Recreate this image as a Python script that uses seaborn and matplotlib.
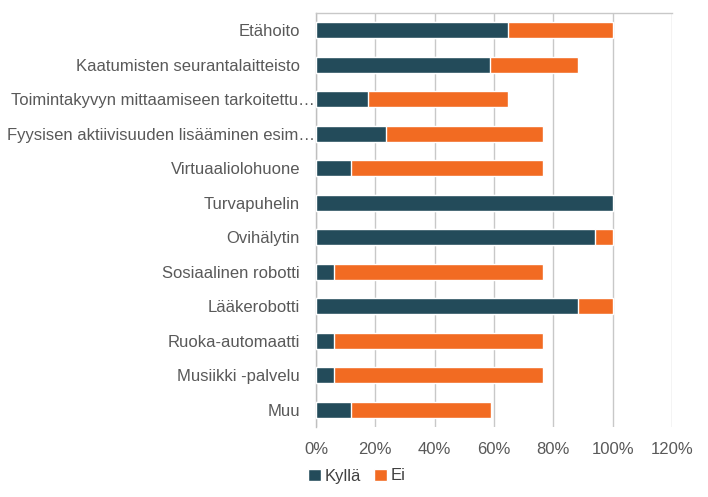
import matplotlib
matplotlib.use("Agg")
import matplotlib.pyplot as plt
import matplotlib.transforms as mtransforms
import seaborn as sns
import numpy as np
import pandas as pd
from matplotlib.ticker import PercentFormatter, FixedLocator
from matplotlib.patches import Patch

categories = [
    "Etähoito",
    "Kaatumisten seurantalaitteisto",
    "Toimintakyvyn mittaamiseen tarkoitettu…",
    "Fyysisen aktiivisuuden lisääminen esim…",
    "Virtuaaliolohuone",
    "Turvapuhelin",
    "Ovihälytin",
    "Sosiaalinen robotti",
    "Lääkerobotti",
    "Ruoka-automaatti",
    "Musiikki -palvelu",
    "Muu",
]
kylla = [64.7, 58.8, 17.6, 23.5, 11.8, 100.0, 94.1, 5.9, 88.2, 5.9, 5.9, 11.8]
ei = [35.3, 29.4, 47.1, 52.9, 64.7, 0.0, 5.9, 70.6, 11.8, 70.6, 70.6, 47.1]

series_names = ["Kyllä", "Ei"]
c_kylla = "#234b5a"
c_ei = "#f26b22"
gray = "#595959"

df = pd.DataFrame({"cat": categories, "Kyllä": kylla, "Ei": ei})
df["total"] = df["Kyllä"] + df["Ei"]

sns.set_theme(style="white")
plt.rcParams["font.family"] = ["Liberation Sans", "DejaVu Sans"]

fig = plt.figure(figsize=(7.08, 4.97), dpi=100)
ax = fig.add_axes([316/708, 1-427/497, (672-316)/708, (427-13)/497])

sns.barplot(data=df, y="cat", x="total", color=c_ei, orient="h", width=0.45,
            saturation=1, ax=ax, zorder=3)
sns.barplot(data=df, y="cat", x="Kyllä", color=c_kylla, orient="h", width=0.45,
            saturation=1, ax=ax, zorder=4)

ax.set_xlim(0, 120)
ax.set_ylim(len(categories) - 0.5, -0.5)
ax.xaxis.set_major_locator(FixedLocator([0, 20, 40, 60, 80, 100, 120]))
ax.xaxis.set_major_formatter(PercentFormatter(decimals=0))
ax.grid(axis="x", color="#c8c8c8", linewidth=1, zorder=0)
ax.set_axisbelow(True)
ax.set_xlabel("")
ax.set_ylabel("")

ax.tick_params(axis="x", length=0, labelsize=12, labelcolor=gray, pad=11)
ax.tick_params(axis="y", which="major", length=0, labelsize=12, labelcolor=gray, pad=11.5)
ax.yaxis.set_minor_locator(FixedLocator(np.arange(-0.5, len(categories) + 0.5, 1)))
ax.tick_params(axis="y", which="minor", length=5, color="#bfbfbf", width=1, direction="out")

# long (truncated) labels sit right against the axis, as in the reference
shift = mtransforms.ScaledTranslation(15/100, 0, fig.dpi_scale_trans)
for lab in ax.get_yticklabels():
    if lab.get_text().endswith("…"):
        lab.set_transform(lab.get_transform() + shift)

for s in ["right", "bottom"]:
    ax.spines[s].set_visible(False)
ax.spines["left"].set_color("#bfbfbf")
ax.spines["top"].set_color("#c8c8c8")
ax.spines["left"].set_linewidth(1)
ax.spines["top"].set_linewidth(1)

handles = [Patch(facecolor=c_kylla, label=series_names[0]),
           Patch(facecolor=c_ei, label=series_names[1])]
leg = fig.legend(handles=handles, loc="center left", bbox_to_anchor=(293/708, 1-476/497),
                 ncol=2, frameon=False, fontsize=12, handlelength=0.75, handleheight=0.75,
                 handletextpad=0.25, columnspacing=0.8)
for t in leg.get_texts():
    t.set_color("#404040")

fig.savefig("out.png", dpi=100)
